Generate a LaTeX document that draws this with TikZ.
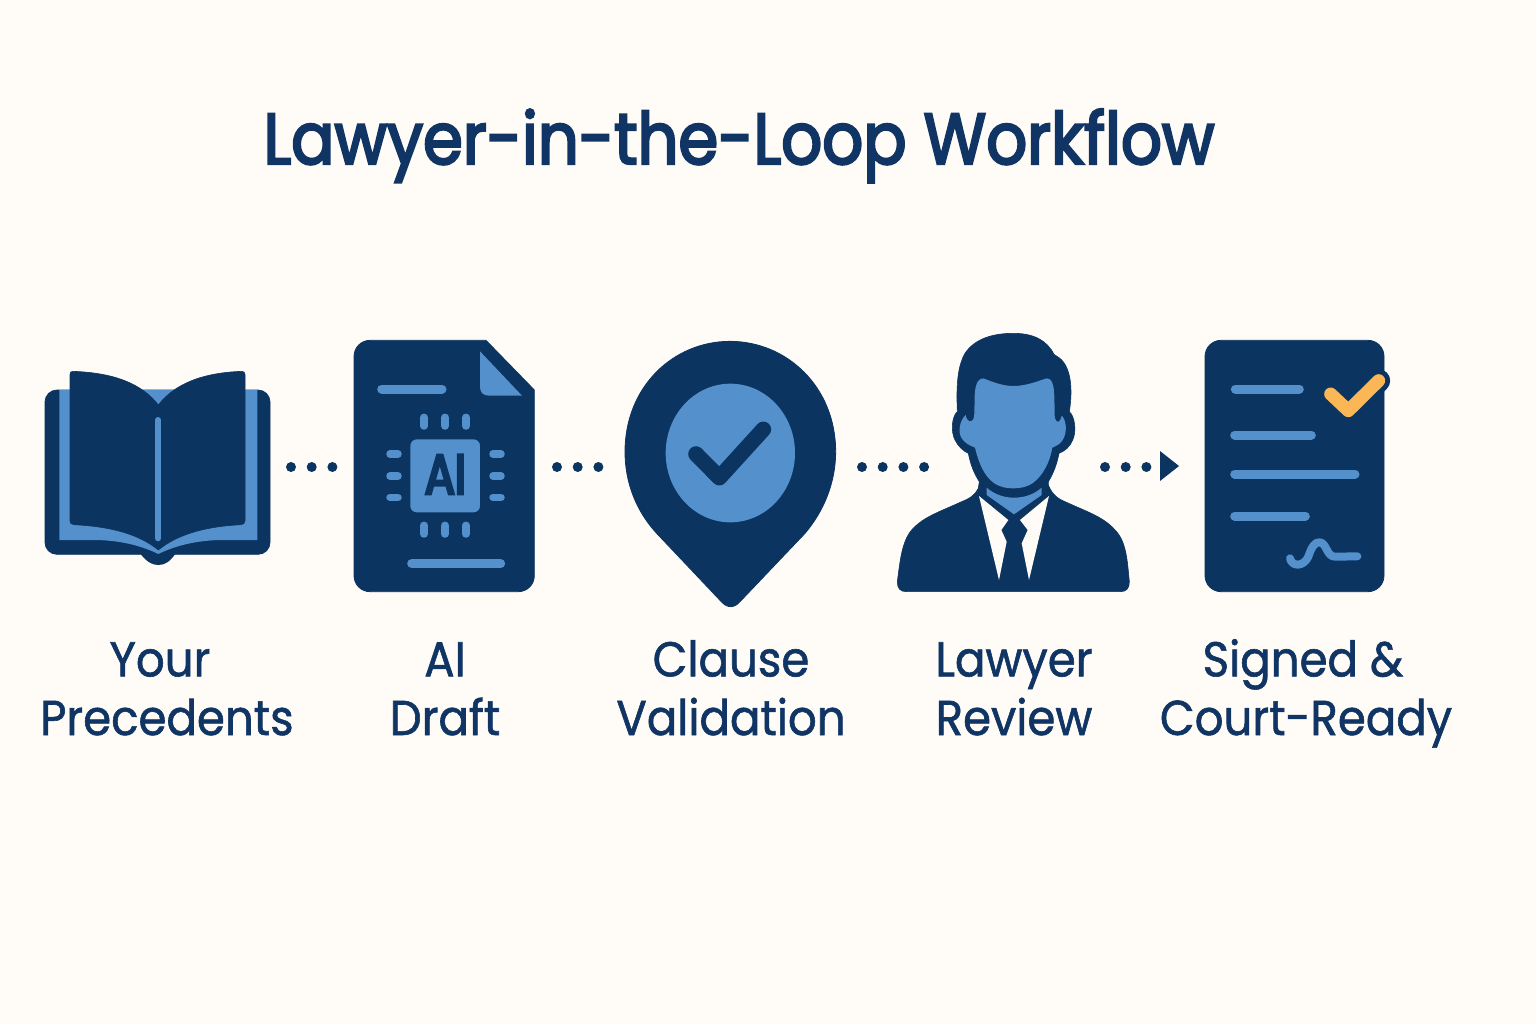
\documentclass[tikz,border=0pt]{standalone}
\usepackage{fontspec}
\setmainfont{Poppins}[FakeStretch=0.92,FakeBold=1.2]
\newfontfamily\titlefont{Poppins}[FakeStretch=0.89,FakeBold=3.2]
\newfontfamily\chipfont{Poppins}[FakeStretch=0.8,FakeBold=5]
\definecolor{navy}{HTML}{0B3460}
\definecolor{midblue}{HTML}{5490CB}
\definecolor{paper}{HTML}{FFFCF7}
\definecolor{amber}{HTML}{FBB655}
\definecolor{inkblue}{HTML}{103564}
\tikzset{
  bar/.style={draw=navy,line width=1pt,fill=midblue,rounded corners=3.5},
  lightline/.style={midblue,line cap=round,line join=round},
  darkfill/.style={fill=navy,draw=navy,line join=round},
  flow/.style={navy,line width=5pt,line cap=round,dash pattern=on 0pt off 10.35pt},
  label/.style={text=inkblue,align=center,font=\fontsize{24.5pt}{29.3pt}\selectfont,anchor=base},
  titletext/.style={text=inkblue,font=\titlefont\fontsize{36pt}{40pt}\selectfont,anchor=base}
}
\newcommand{\pinbar}[3]{\draw[navy,line width=#3*0.5pt+2pt,line cap=round] #1 -- #2; \draw[midblue,line width=#3*0.5pt,line cap=round] #1 -- #2;}
\begin{document}
\begin{tikzpicture}[x=0.5pt,y=-0.5pt]
\useasboundingbox (0,0) rectangle (1536,1024);
\fill[paper] (0,0) rectangle (1536,1024);
\node[titletext] (title) at (739,164) {Lawyer-in-the-Loop Workflow};
%
% Book
\begin{scope}[shift={(30,350)},scale=1/3]
\draw[darkfill,rounded corners=6pt] (45,120) rectangle (720,613);
\fill[navy] (330,610) .. controls (350,635) and (365,645) .. (385,645) .. controls (405,645) and (420,635) .. (437,610) -- cycle;
\fill[midblue] (88,120) -- (88,570) -- (200,570) .. controls (280,572) and (340,590) .. (385,612) .. controls (430,590) and (490,572) .. (570,570) -- (682,570) -- (682,120) -- cycle;
\draw[darkfill,line width=0.3pt] (128,64) .. controls (250,68) and (335,100) .. (385,165) .. controls (435,100) and (520,68) .. (636,64) .. controls (642,64) and (645,68) .. (645,74) -- (645,512) .. controls (645,520) and (640,524) .. (632,524) .. controls (520,530) and (440,555) .. (385,600) .. controls (330,555) and (250,530) .. (132,524) .. controls (124,524) and (120,520) .. (120,512) -- (120,74) .. controls (120,68) and (122,64) .. (128,64) -- cycle;
\draw[midblue,line width=3pt,line cap=round] (384,210) -- (384,565);
\end{scope}
%
% AI document
\begin{scope}[shift={(340,330)},scale=1/3]
\draw[darkfill,rounded corners=8pt] (42,400) -- (42,31) -- (300,31) [sharp corners] -- (438,31) -- (583,180) -- (583,400) [rounded corners=8pt] -- (583,785) -- (42,785) -- cycle;
\fill[midblue] (420,64) -- (420,170) .. controls (420,188) and (430,197) .. (447,197) -- (546,197) -- cycle;
\draw[lightline,line width=4.5pt] (125,177) -- (306,177);
\draw[lightline,line width=4.5pt] (215,701) -- (482,701);
\draw[bar] (208,325) rectangle (423,550);
\node[text=navy,font=\chipfont\fontsize{28pt}{28pt}\selectfont] (chiplabel) at (316,433) {AI};
\foreach \px in {252,315,378} {
  \pinbar{(\px,262)}{(\px,288)}{7.5}
  \pinbar{(\px,586)}{(\px,612)}{7.5}
}
\foreach \py in {372,438,502} {
  \pinbar{(150,\py)}{(174,\py)}{7.5}
  \pinbar{(459,\py)}{(483,\py)}{7.5}
}
\end{scope}
%
% Validation pin
\begin{scope}[shift={(610,330)},scale=1/3]
\draw[darkfill] (360,34) .. controls (530,34) and (677,170) .. (677,365) .. controls (677,460) and (640,545) .. (585,610) -- (390,815) .. controls (372,835) and (352,835) .. (334,815) -- (140,610) .. controls (80,545) and (45,460) .. (45,365) .. controls (45,170) and (190,34) .. (360,34) -- cycle;
\fill[midblue] (361,369) ellipse [x radius=194,y radius=208];
\draw[navy,line width=7.8pt,line cap=round,line join=round] (258,372) -- (328,443) -- (460,298);
\end{scope}
%
% Lawyer
\begin{scope}[shift={(880,325)},scale=1/3]
\draw[darkfill,line width=0.3pt] (400,25) .. controls (340,25) and (285,40) .. (255,85) .. controls (235,120) and (228,170) .. (232,260) .. controls (215,275) and (212,320) .. (225,345) .. controls (235,365) and (250,378) .. (265,385) .. controls (272,420) and (282,445) .. (298,470) -- (295,490) .. controls (285,510) and (270,520) .. (245,530) .. controls (180,560) and (130,575) .. (95,615) .. controls (65,650) and (60,710) .. (52,770) .. controls (52,790) and (60,800) .. (80,800) -- (720,800) .. controls (740,800) and (748,790) .. (748,770) .. controls (742,710) and (740,650) .. (705,615) .. controls (670,575) and (620,560) .. (555,530) .. controls (530,520) and (515,505) .. (505,480) -- (505,470) .. controls (520,445) and (530,420) .. (537,385) .. controls (555,378) and (570,365) .. (578,345) .. controls (590,320) and (585,275) .. (568,260) .. controls (576,210) and (578,140) .. (545,105) .. controls (535,95) and (530,95) .. (522,88) .. controls (500,45) and (460,25) .. (400,25) -- cycle;
\fill[midblue] (310,160) .. controls (340,172) and (370,183) .. (400,183) .. controls (435,183) and (470,170) .. (500,160) .. controls (515,160) and (520,175) .. (522,200) .. controls (525,235) and (522,265) .. (525,280) .. controls (530,295) and (540,295) .. (545,272) .. controls (560,285) and (562,325) .. (548,345) .. controls (540,358) and (530,362) .. (517,368) .. controls (510,410) and (490,450) .. (460,473) .. controls (440,487) and (420,490) .. (400,490) .. controls (380,490) and (360,487) .. (340,473) .. controls (310,450) and (295,410) .. (285,368) .. controls (270,362) and (255,355) .. (245,340) .. controls (232,320) and (240,285) .. (257,270) .. controls (262,295) and (278,295) .. (282,275) .. controls (285,250) and (282,230) .. (285,200) .. controls (287,175) and (295,160) .. (310,160) -- cycle;
\fill[midblue] (320,488) .. controls (345,510) and (375,518) .. (402,518) .. controls (430,518) and (460,510) .. (485,488) -- (485,510) -- (402,568) -- (320,510) -- cycle;
\fill[paper] (297,513) -- (385,585) -- (364,615) -- (380,650) -- (357,765) -- cycle;
\fill[paper] (507,513) -- (420,585) -- (443,615) -- (425,655) -- (447,765) -- cycle;
\end{scope}
%
% Signed document
\begin{scope}[shift={(1090,330)},scale=1/3]
\draw[darkfill,rounded corners=8pt] (345,31) rectangle (882,785);
\draw[lightline,line width=4.5pt] (436,177) -- (628,177);
\draw[lightline,line width=4.5pt] (434,315) -- (664,315);
\draw[lightline,line width=4.5pt] (434,432) -- (795,432);
\draw[lightline,line width=4.5pt] (434,558) -- (646,558);
\draw[navy,line width=11.5pt,line cap=round,line join=round] (722,192) -- (775,242) -- (866,152);
\draw[amber,line width=6.5pt,line cap=round,line join=round] (722,192) -- (775,242) -- (866,152);
\draw[lightline,line width=4pt] (600,685) .. controls (605,710) and (640,712) .. (655,680) .. controls (665,650) and (675,635) .. (690,637) .. controls (710,640) and (710,680) .. (735,680) -- (802,679);
\end{scope}
%
% Connectors
\coordinate (f1a) at (291,467); \coordinate (f1b) at (334,467);
\coordinate (f2a) at (557,467); \coordinate (f2b) at (600,467);
\coordinate (f3a) at (862,467); \coordinate (f3b) at (925,467);
\coordinate (f4a) at (1105,467); \coordinate (f4b) at (1148,467);
\coordinate (tip) at (1179,466);
\draw[flow] (f1a) -- (f1b);
\draw[flow] (f2a) -- (f2b);
\draw[flow] (f3a) -- (f3b);
\draw[flow] (f4a) -- (f4b);
\fill[navy] (1160,451) -- (tip) -- (1160,481) -- cycle;
%
% Labels
\node[label] (l1) at (167,735) {\hspace*{-7pt}Your\\Precedents};
\node[label] (l2) at (445,735) {AI\\Draft};
\node[label] (l3) at (731,735) {Clause\\Validation};
\node[label] (l4) at (1014,735) {Lawyer\\Review};
\node[label] (l5) at (1306,735) {\hspace*{-3pt}Signed \&\\Court-Ready};
\end{tikzpicture}
\end{document}
